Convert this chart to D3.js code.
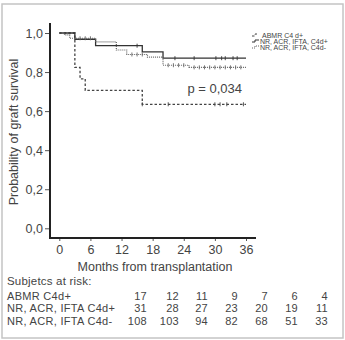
<!DOCTYPE html>
<html>
<head>
<meta charset="utf-8">
<script src="https://cdn.jsdelivr.net/npm/d3@7"></script>
<style>
  body { margin: 0; background: #fff; }
  text { font-family: "Liberation Sans", Arial, sans-serif; fill: #444; }
</style>
</head>
<body>
<div id="chart"></div>
<script>
// survival steps [month, probability]
var abmrSteps = [[0, 1], [3, 0.824], [4, 0.765], [5, 0.706], [16, 0.635], [36, 0.635]];
var c4dPosSteps = [[0, 1], [3, 0.968], [7, 0.935], [16, 0.903], [20, 0.871], [36, 0.871]];
var c4dNegSteps = [[0, 1], [1, 0.99], [2, 0.973], [7, 0.955], [11, 0.913], [13, 0.89], [17, 0.876], [20, 0.835], [25, 0.824], [36, 0.824]];

// censored observations (months)
var abmrCensor = [16, 21, 30, 31, 32.3, 35.5];
var c4dPosCensor = [15, 22.3, 26, 30.2, 31.3, 32, 33.5, 34.3];
var c4dNegCensor = [4, 5, 6, 14, 15, 16, 21, 22, 23, 24, 26, 27, 28, 29, 30, 31, 32, 33, 34, 35];

var xTicks = [0, 6, 12, 18, 24, 30, 36];
var yTicks = [0, 0.2, 0.4, 0.6, 0.8, 1.0];

var groupNames = ['ABMR C4d+', 'NR, ACR, IFTA C4d+', 'NR, ACR, IFTA C4d-'];
var legendNames = ['ABMR C4 d+', 'NR, ACR, IFTA, C4d+', 'NR, ACR, IFTA, C4d-'];
var atRiskAbmr = [17, 12, 11, 9, 7, 6, 4];
var atRiskC4dPos = [31, 28, 27, 23, 20, 19, 11];
var atRiskC4dNeg = [108, 103, 94, 82, 68, 51, 33];

var W = 345, H = 340;
var svg = d3.select('#chart').append('svg')
  .attr('width', W).attr('height', H);

// frame
svg.append('rect')
  .attr('x', 2).attr('y', 4).attr('width', 341).attr('height', 334)
  .attr('fill', 'none').attr('stroke', '#c4c4c4').attr('stroke-width', 1.5);

var x = d3.scaleLinear().domain([0, 36]).range([59.3, 246]);
var y = d3.scaleLinear().domain([0, 1]).range([228.3, 33]);

var comma = function(d) { return d3.format('.1f')(d).replace('.', ','); };

// y axis
var yAxis = svg.append('g')
  .attr('transform', 'translate(50,0)')
  .call(d3.axisLeft(y).tickValues(yTicks).tickFormat(comma).tickSize(5).tickPadding(2));
yAxis.select('.domain').remove();
yAxis.selectAll('line').attr('stroke', '#555');
yAxis.selectAll('text').style('font-size', '12.5px').attr('fill', '#444');

// x axis
var xAxis = svg.append('g')
  .attr('transform', 'translate(0,238)')
  .call(d3.axisBottom(x).tickValues(xTicks).tickSize(3).tickPadding(4));
xAxis.select('.domain').remove();
xAxis.selectAll('line').attr('stroke', '#555');
xAxis.selectAll('text').style('font-size', '12.5px').attr('fill', '#444');

svg.append('line').attr('x1', 50).attr('x2', 50).attr('y1', 23).attr('y2', 239)
  .attr('stroke', '#222').attr('stroke-width', 2);
svg.append('line').attr('x1', 49).attr('x2', 256).attr('y1', 238).attr('y2', 238)
  .attr('stroke', '#222').attr('stroke-width', 2);

// titles
svg.append('text')
  .attr('transform', 'translate(18,132) rotate(-90)')
  .attr('text-anchor', 'middle')
  .style('font-size', '12.5px')
  .text('Probability of graft survival');
svg.append('text')
  .attr('x', 155).attr('y', 271)
  .attr('text-anchor', 'middle')
  .style('font-size', '12.5px')
  .text('Months from transplantation');

// curves
var line = d3.line()
  .x(function(d) { return x(d[0]); })
  .y(function(d) { return y(d[1]); })
  .curve(d3.curveStepAfter);

var groups = [
  {steps: abmrSteps, censor: abmrCensor, dash: '2.5,2', color: '#444', w: 1.3},
  {steps: c4dPosSteps, censor: c4dPosCensor, dash: null, color: '#333', w: 1.3},
  {steps: c4dNegSteps, censor: c4dNegCensor, dash: '1,1', color: '#666', w: 1.2}
];

function survAt(steps, t) {
  var s = steps[0][1];
  steps.forEach(function(p) { if (p[0] <= t) s = p[1]; });
  return s;
}

groups.forEach(function(g) {
  svg.append('path')
    .datum(g.steps)
    .attr('d', line)
    .attr('fill', 'none')
    .attr('stroke', g.color)
    .attr('stroke-width', g.w)
    .attr('stroke-dasharray', g.dash);
  svg.selectAll(null)
    .data(g.censor)
    .enter().append('line')
    .attr('x1', function(d) { return x(d); })
    .attr('x2', function(d) { return x(d); })
    .attr('y1', function(d) { return y(survAt(g.steps, d)) - 2; })
    .attr('y2', function(d) { return y(survAt(g.steps, d)) + 2; })
    .attr('stroke', g.color)
    .attr('stroke-width', 0.9);
});

// p value
svg.append('text')
  .attr('x', 242).attr('y', 92.5)
  .attr('text-anchor', 'end')
  .style('font-size', '13px')
  .text('p = 0,034');

// legend
var legend = svg.append('g').attr('transform', 'translate(252,35)');
legendNames.forEach(function(name, i) {
  var g = groups[i];
  var row = legend.append('g').attr('transform', 'translate(0,' + (i * 6) + ')');
  row.append('path')
    .attr('d', 'M0,1 L3,1 L3,-1 L7,-1')
    .attr('fill', 'none')
    .attr('stroke', g.color)
    .attr('stroke-width', 1)
    .attr('stroke-dasharray', g.dash);
  row.append('text')
    .attr('x', i === 0 ? 10 : 8).attr('y', 2.5)
    .style('font-size', '7px')
    .attr('fill', '#555')
    .text(name);
});

// risk table
svg.append('text')
  .attr('x', 7).attr('y', 285)
  .style('font-size', '11.5px')
  .style('letter-spacing', '0.2px')
  .text('Subjetcs at risk:');

var colX = [147, 179, 208, 238, 268, 298, 328];
var rows = [atRiskAbmr, atRiskC4dPos, atRiskC4dNeg];
var rowY = [299.5, 312.3, 325.1];
rows.forEach(function(vals, i) {
  svg.append('text')
    .attr('x', 7).attr('y', rowY[i])
    .style('font-size', '11px')
    .style('letter-spacing', '0.3px')
    .text(groupNames[i]);
  svg.selectAll(null)
    .data(vals)
    .enter().append('text')
    .attr('x', function(d, j) { return colX[j]; })
    .attr('y', rowY[i])
    .attr('text-anchor', 'end')
    .style('font-size', '11px')
    .style('letter-spacing', '0.3px')
    .text(function(d) { return d; });
});
</script>
</body>
</html>
